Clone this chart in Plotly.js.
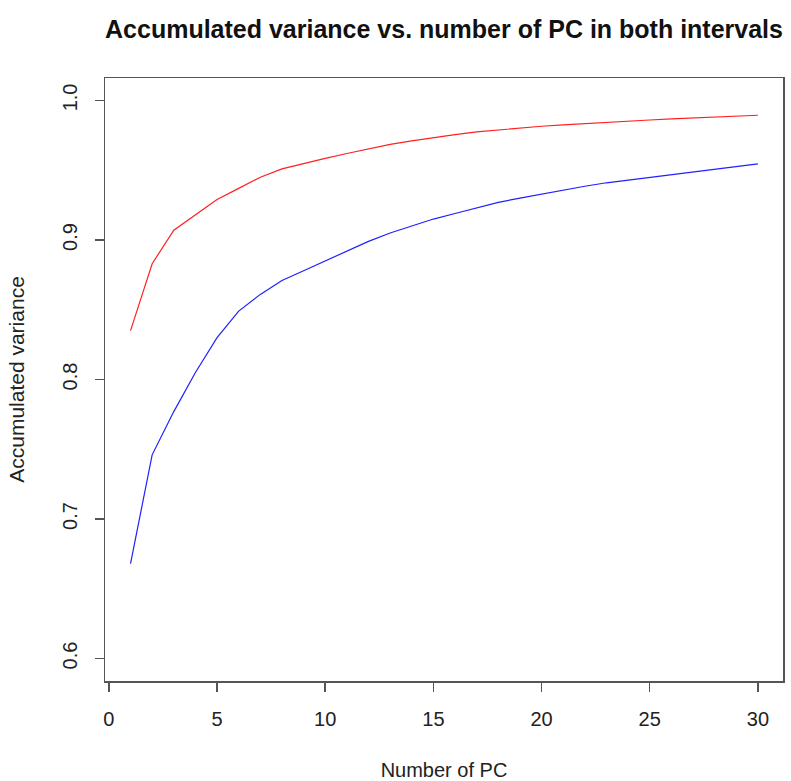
<!DOCTYPE html>
<html>
<head>
<meta charset="utf-8">
<script src="https://cdn.plot.ly/plotly-3.0.1.min.js"></script>
<style>html,body{margin:0;padding:0;background:#fff;}#chart{width:791px;height:781px;}</style>
</head>
<body>
<div id="chart"></div>
<script>
// Number of principal components
const pcNumbers = [1,2,3,4,5,6,7,8,9,10,11,12,13,14,15,16,17,18,19,20,21,22,23,24,25,26,27,28,29,30];
// Accumulated variance, first interval (red)
const accVarRed = [0.835,0.883,0.907,0.918,0.929,0.937,0.945,0.951,0.955,0.9585,
                   0.962,0.9655,0.9685,0.971,0.9735,0.9755,0.9775,0.979,0.9805,0.9815,
                   0.9825,0.9835,0.9845,0.9853,0.986,0.9868,0.9875,0.9882,0.9888,0.9894];
// Accumulated variance, second interval (blue)
const accVarBlue = [0.668,0.746,0.777,0.805,0.830,0.849,0.861,0.871,0.878,0.885,
                    0.892,0.899,0.905,0.910,0.915,0.919,0.923,0.927,0.930,0.933,
                    0.936,0.9385,0.941,0.943,0.945,0.947,0.949,0.951,0.953,0.9545];
const xTicks = [0,5,10,15,20,25,30];
const yTicks = [0.6,0.7,0.8,0.9,1.0];

const traces = [
  {x: pcNumbers, y: accVarRed, type: 'scatter', mode: 'lines',
   line: {color: '#ff2020', width: 1.2}, showlegend: false, hoverinfo: 'skip'},
  {x: pcNumbers, y: accVarBlue, type: 'scatter', mode: 'lines',
   line: {color: '#2020ff', width: 1.2}, showlegend: false, hoverinfo: 'skip'}
];

const fontFam = '"Liberation Sans", Arial, Helvetica, sans-serif';
const layout = {
  width: 791, height: 781,
  margin: {l: 105, r: 8, t: 78, b: 100},
  paper_bgcolor: '#ffffff', plot_bgcolor: '#ffffff',
  font: {family: fontFam, size: 20, color: '#222'},
  title: {text: '<b>Accumulated variance vs. number of PC in both intervals</b>',
          font: {family: fontFam, size: 25, color: '#111'},
          x: 0.5, xref: 'paper', xanchor: 'center',
          y: 1 - 29/781, yref: 'container', yanchor: 'middle'},
  xaxis: {
    range: [-0.18, 31.16], tickvals: xTicks, ticktext: xTicks.map(String),
    showgrid: false, zeroline: false,
    showline: true, mirror: true, linecolor: '#555', linewidth: 1.5,
    ticks: 'outside', ticklen: 9, tickwidth: 1.5, tickcolor: '#555',
    ticklabelstandoff: 10,
    tickfont: {family: fontFam, size: 20, color: '#222'},
    title: {text: 'Number of PC', font: {family: fontFam, size: 20, color: '#222'}, standoff: 34}
  },
  yaxis: {
    range: [0.5839, 1.0161], tickvals: yTicks, ticktext: yTicks.map(v => v.toFixed(1)),
    tickangle: -90,
    showgrid: false, zeroline: false,
    showline: true, mirror: true, linecolor: '#555', linewidth: 1.5,
    ticks: 'outside', ticklen: 9, tickwidth: 1.5, tickcolor: '#555',
    ticklabelstandoff: 10,
    tickfont: {family: fontFam, size: 20, color: '#222'},
    title: {text: 'Accumulated variance', font: {family: fontFam, size: 21, color: '#222'}, standoff: 28}
  }
};

Plotly.newPlot('chart', traces, layout, {staticPlot: true, displayModeBar: false});
</script>
</body>
</html>
